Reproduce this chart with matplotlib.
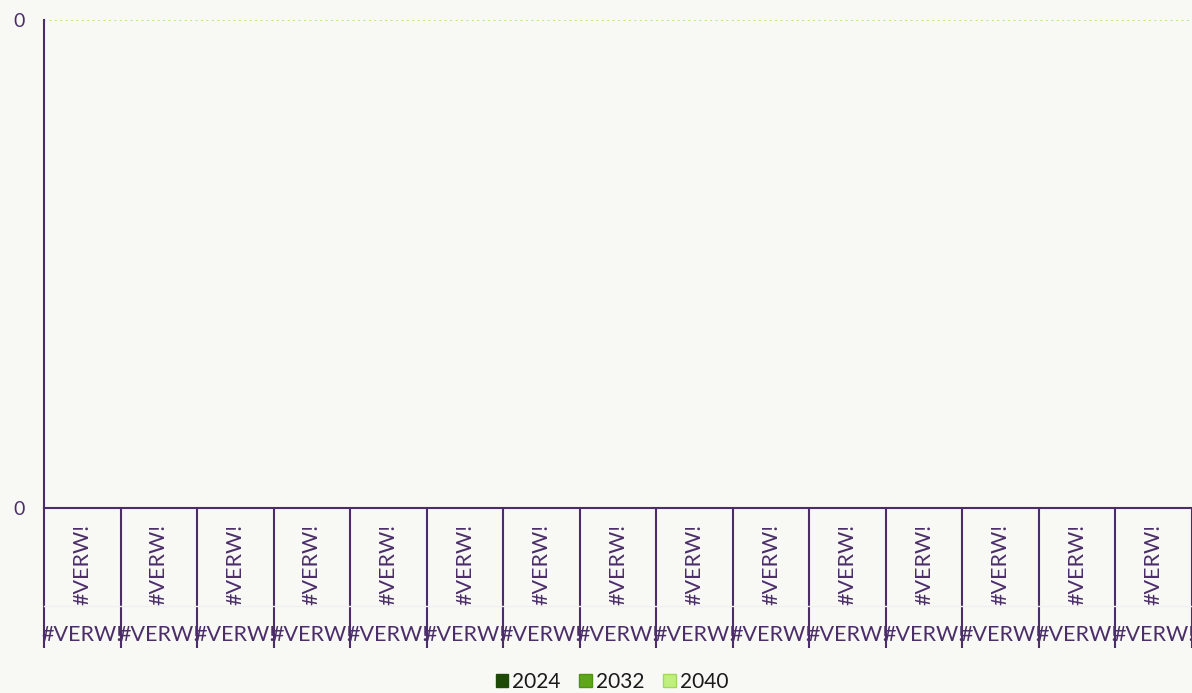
import numpy as np
import matplotlib.pyplot as plt
from matplotlib.patches import Patch

plt.rcParams['font.family'] = ['Lato', 'DejaVu Sans']

# data (every cell of the source sheet is an error, values show as 0)
inner_labels = ['#VERW!'] * 15
outer_labels = ['#VERW!'] * 15
series_names = ['2024', '2032', '2040']
v2024 = [0, 0, 0, 0, 0, 0, 0, 0, 0, 0, 0, 0, 0, 0, 0]
v2032 = [0, 0, 0, 0, 0, 0, 0, 0, 0, 0, 0, 0, 0, 0, 0]
v2040 = [0, 0, 0, 0, 0, 0, 0, 0, 0, 0, 0, 0, 0, 0, 0]
ytick_vals = [0, 1]
ytick_labels = ['0', '0']

bg = '#f8f8f4'
purple = '#4b2e69'
fills = ['#1e4a07', '#5ea817', '#bff07e']
edges = ['#1e4a07', '#4f9212', '#9ed85e']

fig = plt.figure(figsize=(11.92, 6.93), dpi=100, facecolor=bg)
W, H = 1192, 693
ax = fig.add_axes([44 / W, (H - 508) / H, 1 - 44 / W, 488 / H])
ax.set_facecolor(bg)

n = len(inner_labels)
x = np.arange(n) + 0.5
bw = 0.25
for i, vals in enumerate([v2024, v2032, v2040]):
    ax.bar(x + (i - 1) * bw, vals, bw, color=fills[i], edgecolor=edges[i])

ax.set_xlim(0, n)
ax.set_ylim(0, 1)
ax.axhline(1, color='#a9e870', lw=1.3, ls=(0, (1, 2)), zorder=0)

for s in ['top', 'right']:
    ax.spines[s].set_visible(False)
ax.spines['left'].set_color(purple)
ax.spines['bottom'].set_color(purple)
ax.spines['left'].set_linewidth(1.5)
ax.spines['bottom'].set_linewidth(1.5)

ax.set_yticks(ytick_vals)
ax.set_yticklabels(ytick_labels, color=purple, fontsize=14)
ax.tick_params(axis='y', length=0, pad=14)
ax.set_xticks([])

trans = ax.get_xaxis_transform()
ybot = -140 / 488
for k in range(n + 1):
    ax.plot([k, k], [0, ybot], transform=trans, color=purple, lw=1.5,
            clip_on=False, solid_capstyle='butt')
ax.plot([0, n], [-98 / 488, -98 / 488], transform=trans, color='#f1eff2',
        lw=1, clip_on=False)

for k in range(n):
    ax.text(x[k], -56 / 488, inner_labels[k], transform=trans, rotation=90,
            ha='center', va='center', color=purple, fontsize=15.5,
            clip_on=False)
    ax.text(x[k], -127 / 488, outer_labels[k], transform=trans,
            ha='center', va='center', color=purple, fontsize=15.5,
            clip_on=False)

handles = [Patch(facecolor=fills[i], edgecolor=edges[i], label=series_names[i])
           for i in range(3)]
fig.legend(handles=handles, loc='center', bbox_to_anchor=(612 / W, 1 - 682 / H),
           ncol=3, frameon=False, fontsize=15, handlelength=0.6,
           handleheight=0.6, handletextpad=0.2, columnspacing=0.9,
           labelcolor='#1a1a1a')

fig.savefig('out.png', dpi=100, facecolor=bg)
